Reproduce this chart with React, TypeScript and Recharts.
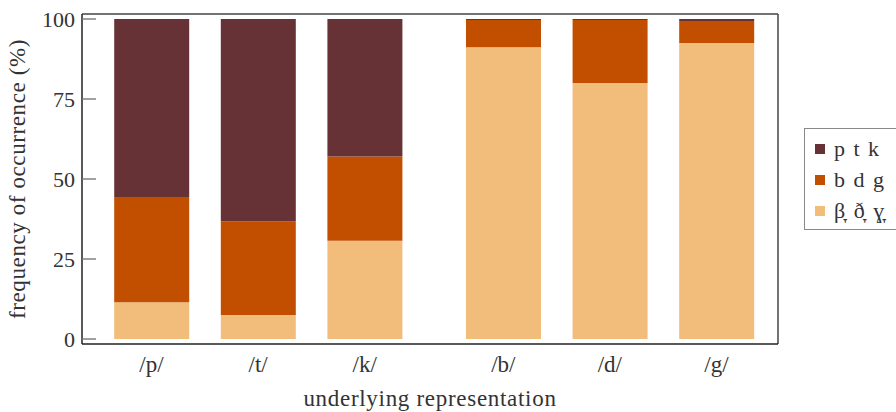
import React from 'react';
import { BarChart, Bar, XAxis, YAxis, Legend, ReferenceLine, Label } from 'recharts';

const categories = ['/p/', '/t/', '/k/', '/b/', '/d/', '/g/'];
const positions = [1, 2, 3, 4.3, 5.3, 6.3];
const fricativeValues = [11.5, 7.5, 30.7, 91.2, 80.0, 92.5];
const voicedValues = [32.9, 29.2, 26.3, 8.5, 19.7, 6.9];
const voicelessValues = [55.6, 63.3, 43.0, 0.3, 0.3, 0.6];
const yTicks = [0, 25, 50, 75, 100];
const legendNames = ['p t k', 'b d g', 'β\u031E ð\u031E ɣ\u031E'];
const legendColors = ['#673235', '#C24E00', '#F2BC7B'];

const X_MIN = 0.348;
const X_MAX = 6.877;
const Y_MIN = -1.5625;
const Y_MAX = 101.5625;

const FONT = '"Liberation Serif", "DejaVu Serif", serif';
const TEXT = '#333333';

const data = positions.map((x, i) => ({
  x,
  fricative: fricativeValues[i],
  voiced: voicedValues[i],
  voiceless: voicelessValues[i],
}));

const YTick = (props: any) => {
  const { x, y, payload } = props;
  return (
    <g>
      <line x1={x + 6} x2={x + 20} y1={y} y2={y} stroke="#777" strokeWidth={1.4} />
      <text x={x - 1} y={y} dy="0.35em" textAnchor="end" fill={TEXT} fontFamily={FONT} fontSize={22}>
        {payload.value}
      </text>
    </g>
  );
};

const XTick = (props: any) => {
  const { x, y, payload } = props;
  const idx = positions.indexOf(payload.value);
  return (
    <text x={x} y={y + 20} textAnchor="middle" fill={TEXT} fontFamily={FONT} fontSize={23}>
      {categories[idx]}
    </text>
  );
};

const LegendBox = () => (
  <div
    style={{
      border: '1.5px solid #888',
      padding: '4px 0 3px 10px',
      width: 110,
      boxSizing: 'border-box',
      background: '#fff',
      textAlign: 'left',
    }}
  >
    {legendNames.map((n, i) => (
      <div key={n} style={{ display: 'flex', alignItems: 'center', height: 31 }}>
        <span style={{ width: 10, height: 10, background: legendColors[i], display: 'inline-block', marginRight: 9 }} />
        <span style={{ fontFamily: FONT, fontSize: 22, color: TEXT, wordSpacing: 3 }}>{n}</span>
      </div>
    ))}
  </div>
);

const YLabel = (props: any) => {
  const vb = props.viewBox || { x: 0, y: 14, width: 82, height: 330 };
  const cx = vb.x + 25;
  const cy = vb.y + vb.height / 2;
  return (
    <text
      x={cx}
      y={cy}
      transform={`rotate(-90 ${cx} ${cy})`}
      textAnchor="middle"
      fill={TEXT}
      fontFamily={FONT}
      fontSize={23}
      letterSpacing={0.6}
    >
      frequency of occurrence (%)
    </text>
  );
};

export default function App() {
  return (
    <div style={{ position: 'absolute', left: 0, top: 0, width: 896, height: 412, overflow: 'hidden', background: '#fff' }}>
      <BarChart
        width={896}
        height={412}
        data={data}
        margin={{ top: 14, right: 118, bottom: 0, left: 0 }}
        barSize={75}
      >
        <XAxis
          type="number"
          dataKey="x"
          domain={[X_MIN, X_MAX]}
          ticks={positions}
          allowDataOverflow
          height={68}
          axisLine={{ stroke: '#222', strokeWidth: 1.5 }}
          tickLine={false}
          tick={<XTick />}
          interval={0}
        >
          <Label
            value="underlying representation"
            position="insideBottom"
            offset={6}
            fill={TEXT}
            style={{ fontFamily: FONT, fontSize: 23, letterSpacing: 0.7 }}
          />
        </XAxis>
        <YAxis
          type="number"
          domain={[Y_MIN, Y_MAX]}
          ticks={yTicks}
          allowDataOverflow
          width={82}
          axisLine={{ stroke: '#222', strokeWidth: 1.5 }}
          tickLine={false}
          tickSize={0}
          tickMargin={6}
          tick={<YTick />}
          interval={0}
          label={<YLabel />}
        />
        <ReferenceLine y={Y_MAX} stroke="#444" strokeWidth={1.5} ifOverflow="visible" />
        <ReferenceLine x={X_MAX} stroke="#444" strokeWidth={1.5} ifOverflow="visible" />
        <Bar dataKey="fricative" stackId="a" fill={legendColors[2]} isAnimationActive={false} />
        <Bar dataKey="voiced" stackId="a" fill={legendColors[1]} isAnimationActive={false} />
        <Bar dataKey="voiceless" stackId="a" fill={legendColors[0]} isAnimationActive={false} />
        <Legend
          layout="horizontal"
          verticalAlign="middle"
          align="center"
          content={<LegendBox />}
          wrapperStyle={{ position: 'absolute', left: 804, top: 128, width: 110 }}
        />
      </BarChart>
    </div>
  );
}
